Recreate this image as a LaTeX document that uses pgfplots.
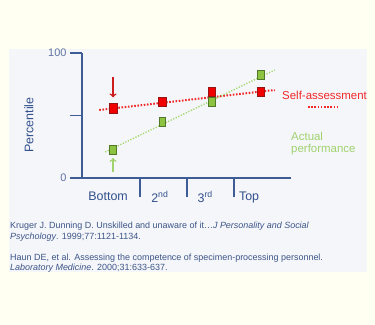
\documentclass[border=0pt]{standalone}
\usepackage{pgfplots}
\pgfplotsset{compat=1.18}
\usepackage{fontspec}
\setmainfont{Liberation Sans}
\definecolor{ivory}{RGB}{255,255,242}
\definecolor{panel}{RGB}{245,246,250}
\definecolor{axblue}{RGB}{62,92,150}
\definecolor{txtblue}{RGB}{50,80,140}
\definecolor{tickgray}{RGB}{95,115,160}
\definecolor{citeblue}{RGB}{60,85,135}
\definecolor{mred}{RGB}{240,0,0}
\definecolor{mredd}{RGB}{150,20,20}
\definecolor{lred}{RGB}{240,40,40}
\definecolor{ared}{RGB}{205,30,30}
\definecolor{mgreen}{RGB}{140,195,65}
\definecolor{mgreend}{RGB}{80,120,40}
\definecolor{lgreen}{RGB}{165,215,110}
\definecolor{tgreen}{RGB}{160,210,110}
\begin{document}
\begin{tikzpicture}[x=1bp,y=1bp]
\fill[ivory] (0,0) rectangle (375,325);
\fill[panel] (9,53) rectangle (367,276);
\begin{axis}[at={(82bp,147bp)}, anchor=south west, scale only axis,
  width=209bp, height=125bp,
  xmin=-0.63, xmax=3.61, ymin=0, ymax=100,
  axis lines=left, axis line style={axblue, line width=1.6bp, -},
  clip=false,
  tick align=outside,
  major tick length=12bp,
  ytick={0,50,100}, yticklabels={0,,100},
  ytick style={draw=axblue, line width=1.6bp},
  yticklabel style={font=\fontsize{11}{13}\selectfont, text=tickgray},
  xtick={-0.1,0.95,1.87,2.76},
  xticklabels={Bottom,2\textsuperscript{nd},3\textsuperscript{rd},Top},
  xtick style={draw=none},
  xticklabel style={font=\fontsize{12.5}{14}\selectfont, text=txtblue, yshift=2bp},
  extra x ticks={0.55,1.5,2.45},
  extra x tick labels={},
  extra x tick style={xtick style={draw=axblue, line width=1.6bp}, major tick length=19bp},
]
\addplot[lred, line width=2bp, dash pattern=on 1.6bp off 1.6bp] coordinates {(-0.28,54.4) (3.28,70.4)};
\addplot[lgreen, line width=1.4bp, dash pattern=on 1.2bp off 1.6bp] coordinates {(-0.16,20.8) (3.28,86.4)};
\addplot[only marks, mark=square*, mark size=4.7bp,
  mark options={fill=mred, draw=mredd, line width=0.6bp, xscale=0.8}]
  coordinates {(0,55.6) (1,61) (2,69) (3,69)};
\addplot[only marks, mark=square*, mark size=4.6bp,
  mark options={fill=mgreen, draw=mgreend, line width=0.6bp, xscale=0.72}]
  coordinates {(0,22.4) (1,44.8) (2,61) (3,82.4)};
\draw[ared, line width=1.5bp, ->] (axis cs:0,80.5) -- (axis cs:0,64.5);
\draw[tgreen, line width=1.5bp, ->] (axis cs:0,4.5) -- (axis cs:0,16);
\end{axis}
\node[rotate=90, text=txtblue, font=\fontsize{12.5}{14}\selectfont] at (29,200) {Percentile};
\node[anchor=base west, inner sep=0, text=lred, font=\fontsize{11.5}{13}\selectfont] at (282,226) {Self-assessment};
\draw[lred, line width=2bp, dash pattern=on 1.6bp off 1.6bp] (308,218) -- (337,218);
\node[anchor=base west, inner sep=0, text=tgreen, font=\fontsize{11.5}{13}\selectfont] at (291,185) {Actual};
\node[anchor=base west, inner sep=0, text=tgreen, font=\fontsize{11.5}{13}\selectfont] at (291,173) {performance};
\begin{scope}[every node/.style={anchor=base west, inner sep=0, text=citeblue, font=\fontsize{9}{11}\selectfont}]
\node at (10,97) {Kruger J. Dunning D. Unskilled and unaware of it…\textit{J Personality and Social}};
\node at (10,86) {\textit{Psychology}. 1999;77:1121-1134.};
\node at (10,64.5) {Haun DE, et al. Assessing the competence of specimen-processing personnel.};
\node at (10,54.5) {\textit{Laboratory Medicine}. 2000;31:633-637.};
\end{scope}
\pgfresetboundingbox
\useasboundingbox (0,0) rectangle (375,325);
\end{tikzpicture}
\end{document}
